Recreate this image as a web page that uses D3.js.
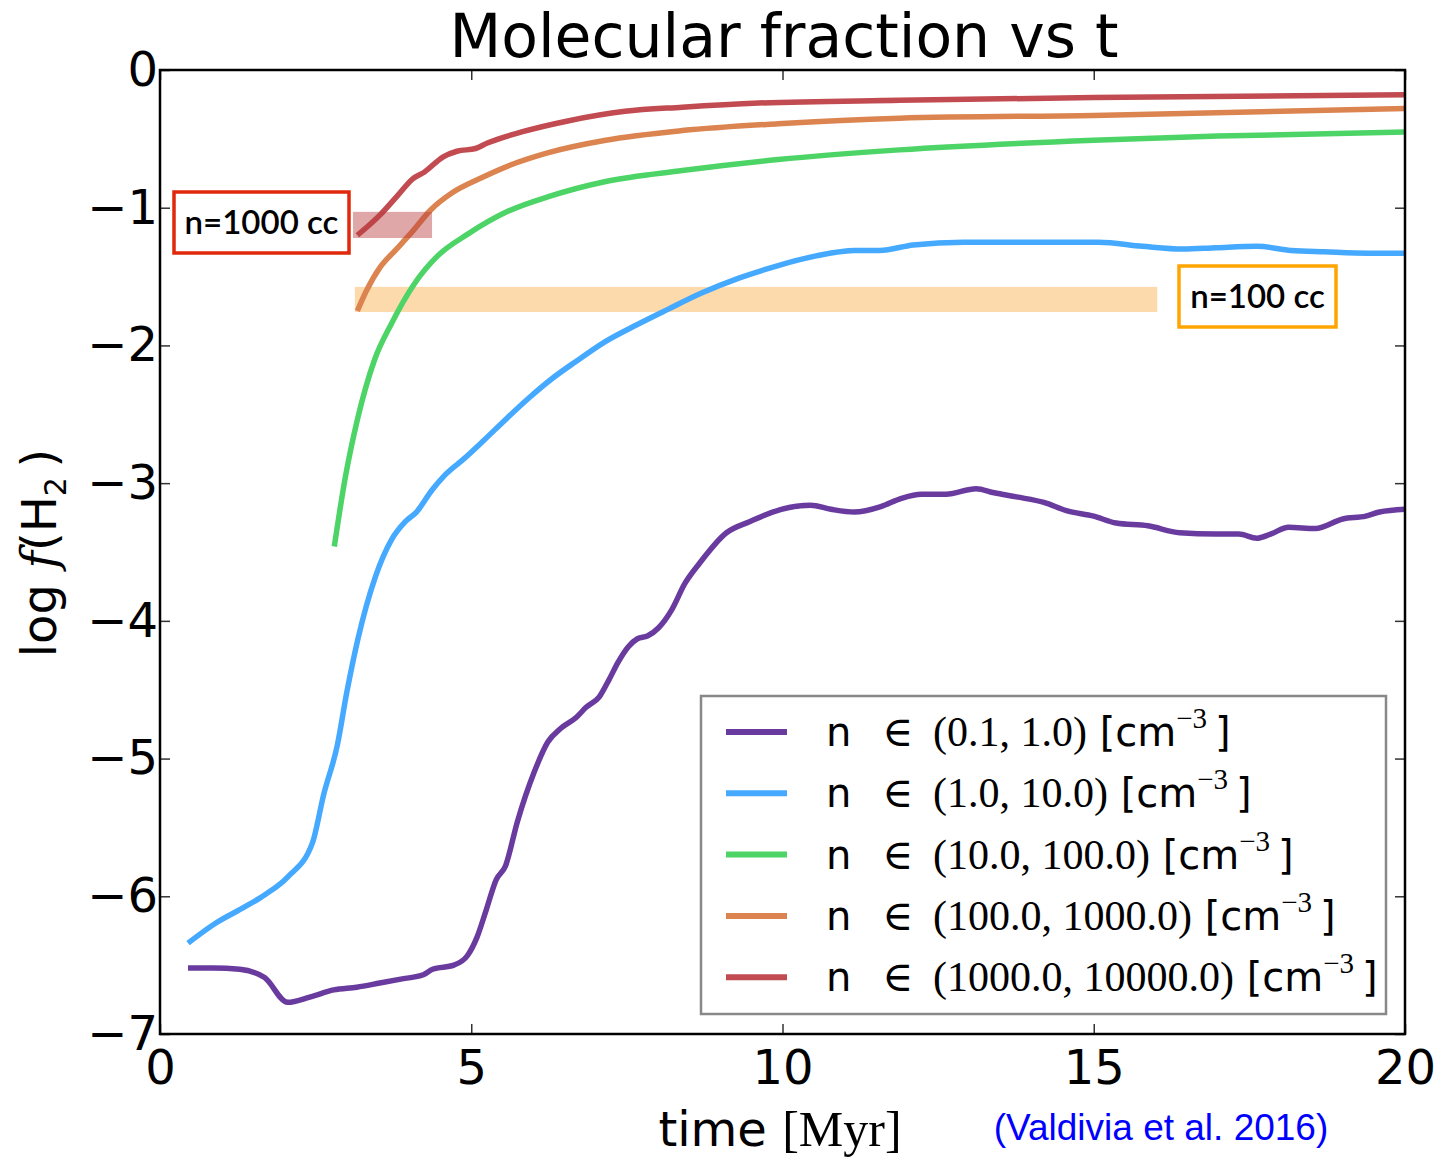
<!DOCTYPE html>
<html>
<head>
<meta charset="utf-8">
<script src="https://cdn.jsdelivr.net/npm/d3@7"></script>
<style>
  body { margin: 0; background: #fff; }
  svg { display: block; }
</style>
</head>
<body>
<div id="chart"></div>
<script>
// series values: time [Myr] and log f(H2)
const purpleT = [0.45, 0.85, 1.28, 1.68, 2.05, 2.42, 2.79, 3.16, 3.53, 3.89, 4.23, 4.38, 4.72, 4.94, 5.09, 5.24, 5.40, 5.55, 5.74, 6.01, 6.23, 6.44, 6.69, 6.84, 7.06, 7.21, 7.36, 7.52, 7.67, 7.83, 8.01, 8.22, 8.43, 8.67, 9.10, 9.47, 9.98, 10.45, 10.78, 11.15, 11.58, 11.91, 12.23, 12.63, 13.11, 13.40, 13.76, 14.20, 14.56, 15.00, 15.36, 15.87, 16.38, 16.96, 17.33, 17.62, 17.84, 18.13, 18.56, 19.00, 19.37, 19.59, 20];
const purpleF = [-6.52, -6.52, -6.53, -6.59, -6.77, -6.73, -6.68, -6.66, -6.63, -6.60, -6.57, -6.53, -6.50, -6.43, -6.30, -6.10, -5.88, -5.78, -5.46, -5.10, -4.88, -4.78, -4.70, -4.63, -4.55, -4.43, -4.30, -4.19, -4.13, -4.11, -4.05, -3.92, -3.73, -3.58, -3.36, -3.28, -3.19, -3.16, -3.19, -3.21, -3.17, -3.11, -3.08, -3.08, -3.04, -3.07, -3.10, -3.14, -3.20, -3.24, -3.29, -3.31, -3.36, -3.37, -3.37, -3.40, -3.37, -3.32, -3.33, -3.26, -3.24, -3.21, -3.19];

const blueT = [0.45, 0.91, 1.31, 1.68, 2.05, 2.45, 2.63, 2.85, 3.00, 3.18, 3.46, 3.72, 3.94, 4.12, 4.37, 4.58, 4.89, 5.20, 5.57, 5.93, 6.30, 6.67, 7.16, 7.66, 8.15, 8.70, 9.31, 9.93, 10.54, 11.16, 11.56, 12.10, 12.91, 13.99, 15.08, 15.78, 16.43, 16.97, 17.62, 18.17, 18.71, 19.41, 20];
const blueF = [-6.34, -6.19, -6.09, -5.99, -5.86, -5.61, -5.26, -4.90, -4.52, -4.13, -3.68, -3.41, -3.28, -3.21, -3.05, -2.94, -2.82, -2.69, -2.53, -2.38, -2.24, -2.12, -1.97, -1.85, -1.74, -1.62, -1.51, -1.42, -1.35, -1.31, -1.31, -1.27, -1.25, -1.25, -1.25, -1.28, -1.30, -1.29, -1.28, -1.31, -1.32, -1.33, -1.33];

const greenT = [2.80, 2.98, 3.17, 3.45, 3.72, 4.09, 4.46, 4.95, 5.57, 6.24, 7.16, 8.39, 9.93, 11.88, 15.0, 17.0, 20];
const greenF = [-3.46, -2.95, -2.54, -2.10, -1.84, -1.55, -1.35, -1.19, -1.03, -0.92, -0.81, -0.73, -0.65, -0.58, -0.51, -0.48, -0.45];

const orangeT = [3.17, 3.32, 3.54, 3.78, 4.06, 4.34, 4.70, 5.13, 5.63, 6.24, 7.16, 8.39, 9.93, 11.88, 15.0, 20];
const orangeF = [-1.75, -1.60, -1.43, -1.31, -1.17, -1.02, -0.89, -0.79, -0.69, -0.60, -0.51, -0.44, -0.39, -0.35, -0.33, -0.28];

const redT = [3.17, 3.54, 3.82, 4.06, 4.25, 4.55, 4.77, 5.07, 5.26, 5.81, 6.55, 7.47, 8.39, 9.62, 11.88, 15.0, 20];
const redF = [-1.20, -1.05, -0.91, -0.79, -0.74, -0.63, -0.59, -0.57, -0.53, -0.45, -0.37, -0.30, -0.27, -0.24, -0.22, -0.20, -0.18];

const binLow = ['0.1', '1.0', '10.0', '100.0', '1000.0'];
const binHigh = ['1.0', '10.0', '100.0', '1000.0', '10000.0'];
const xTicks = [0, 5, 10, 15, 20];
const yTicks = [0, -1, -2, -3, -4, -5, -6, -7];

// highlighted bands [t0, t1, f0, f1]
const redBand = [3.1, 4.37, -1.03, -1.22];
const orangeBand = [3.13, 16.02, -1.575, -1.757];

const colors = ['#6a3b9f', '#45a9ff', '#4dd466', '#dc8450', '#c14b51'];

const series = [
  { t: purpleT, f: purpleF },
  { t: blueT, f: blueF },
  { t: greenT, f: greenF },
  { t: orangeT, f: orangeF },
  { t: redT, f: redF }
].map((s, i) => ({ color: colors[i], low: binLow[i], high: binHigh[i],
  pts: s.t.map((t, j) => [t, s.f[j]]) }));

const W = 1445, H = 1157;
const margin = { top: 70, right: 40, bottom: 123, left: 160 };
const width = W - margin.left - margin.right;
const height = H - margin.top - margin.bottom;

const svg = d3.select('#chart').append('svg')
    .attr('width', W)
    .attr('height', H)
    .style('font-family', 'DejaVu Sans, sans-serif');

const g = svg.append('g')
    .attr('transform', `translate(${margin.left},${margin.top})`);

const x = d3.scaleLinear().domain([0, 20]).range([0, width]);
const y = d3.scaleLinear().domain([-7, 0]).range([height, 0]);

// bands behind the lines
g.append('rect')
    .attr('x', x(orangeBand[0])).attr('width', x(orangeBand[1]) - x(orangeBand[0]))
    .attr('y', y(orangeBand[2])).attr('height', y(orangeBand[3]) - y(orangeBand[2]))
    .attr('fill', '#fcc173').attr('opacity', 0.6);

const line = d3.line()
    .x(d => x(d[0]))
    .y(d => y(d[1]))
    .curve(d3.curveMonotoneX);

g.selectAll('.series')
  .data(series)
  .join('path')
    .attr('class', 'series')
    .attr('fill', 'none')
    .attr('stroke', d => d.color)
    .attr('stroke-width', 5.5)
    .attr('d', d => line(d.pts));

g.append('rect')
    .attr('x', x(redBand[0])).attr('width', x(redBand[1]) - x(redBand[0]))
    .attr('y', y(redBand[2])).attr('height', y(redBand[3]) - y(redBand[2]))
    .attr('fill', '#b83c3c').attr('opacity', 0.45);

// axes: ticks inward on all four sides
const tickStyle = sel => {
  sel.select('.domain').remove();
  sel.selectAll('line').attr('stroke', '#333').attr('stroke-width', 1.5);
};

g.append('g')
    .attr('transform', `translate(0,${height})`)
    .call(d3.axisBottom(x).tickValues(xTicks).tickSizeInner(-10).tickPadding(16).tickFormat(d3.format('d')))
    .call(tickStyle)
    .selectAll('text')
      .attr('font-size', 48).attr('fill', '#000').attr('font-family', 'DejaVu Sans');

g.append('g')
    .call(d3.axisTop(x).tickValues(xTicks).tickSizeInner(-10).tickFormat(''))
    .call(tickStyle);

g.append('g')
    .call(d3.axisLeft(y).tickValues(yTicks).tickSizeInner(-10).tickPadding(2)
      .tickFormat(d => d < 0 ? '\u2212' + Math.abs(d) : d))
    .call(tickStyle)
    .selectAll('text')
      .attr('font-size', 48).attr('fill', '#000').attr('font-family', 'DejaVu Sans');

g.append('g')
    .attr('transform', `translate(${width},0)`)
    .call(d3.axisRight(y).tickValues(yTicks).tickSizeInner(-10).tickFormat(''))
    .call(tickStyle);

g.append('rect')
    .attr('width', width).attr('height', height)
    .attr('fill', 'none').attr('stroke', '#000').attr('stroke-width', 2.5);

// title and axis labels
svg.append('text')
    .attr('x', 784).attr('y', 57)
    .attr('text-anchor', 'middle')
    .attr('font-size', 60)
    .text('Molecular fraction vs t');

const xl = svg.append('text')
    .attr('x', 780).attr('y', 1146)
    .attr('text-anchor', 'middle')
    .attr('font-size', 48);
xl.append('tspan').text('time ');
xl.append('tspan').attr('font-family', 'Liberation Serif, serif').attr('font-size', 50).text('[Myr]');

const yl = svg.append('text')
    .attr('transform', 'translate(56,553) rotate(-90)')
    .attr('text-anchor', 'middle')
    .attr('font-size', 48);
yl.append('tspan').text('log ');
yl.append('tspan').attr('font-family', 'DejaVu Serif').attr('font-style', 'italic').text('f');
yl.append('tspan').text('(H');
yl.append('tspan').attr('font-size', 30).attr('dy', 10).text('2');
yl.append('tspan').attr('dy', -10).text('\u2009)');

svg.append('text')
    .attr('x', 1161).attr('y', 1140)
    .attr('text-anchor', 'middle')
    .attr('font-family', 'Liberation Sans, Arial, sans-serif')
    .attr('font-size', 37)
    .attr('fill', '#0000ff')
    .text('(Valdivia et al. 2016)');

// annotation boxes
const annots = [
  { x: 174, y: 192, w: 175, h: 61, stroke: '#e0280c', text: 'n=1000 cc' },
  { x: 1179, y: 266, w: 157, h: 61, stroke: '#ffa500', text: 'n=100 cc' }
];
const ann = svg.selectAll('.ann').data(annots).join('g').attr('class', 'ann');
ann.append('rect')
    .attr('x', d => d.x).attr('y', d => d.y)
    .attr('width', d => d.w).attr('height', d => d.h)
    .attr('fill', '#fff').attr('stroke', d => d.stroke).attr('stroke-width', 3.5);
ann.append('text')
    .attr('x', d => d.x + d.w / 2).attr('y', d => d.y + d.h / 2 + 11)
    .attr('text-anchor', 'middle')
    .attr('font-family', 'Lato, sans-serif')
    .attr('font-size', 33)
    .attr('font-weight', 600)
    .text(d => d.text);

// legend
const legend = svg.append('g');
legend.append('rect')
    .attr('x', 701).attr('y', 696).attr('width', 685).attr('height', 318)
    .attr('fill', '#fff').attr('stroke', '#888').attr('stroke-width', 2.5);

const rows = legend.selectAll('.row').data(series).join('g')
    .attr('class', 'row')
    .attr('transform', (d, i) => `translate(0,${732 + i * 61.3})`);
rows.append('line')
    .attr('x1', 726).attr('x2', 787)
    .attr('stroke', d => d.color).attr('stroke-width', 6);
const lt = rows.append('text')
    .attr('y', 14)
    .attr('font-size', 40);
lt.append('tspan').attr('x', 826).text('n');
lt.append('tspan').attr('x', 882).attr('font-family', 'DejaVu Serif').attr('font-size', 42).text('\u2208');
lt.append('tspan').attr('x', 933).attr('font-family', 'Liberation Serif, serif').attr('font-size', 42)
    .text(d => `(${d.low}, ${d.high})`);
lt.append('tspan').text(' [cm');
lt.append('tspan').attr('dy', -18).attr('font-family', 'Liberation Serif, serif').attr('font-size', 29).text('\u22123');
lt.append('tspan').attr('dy', 18).text('\u2009]');
</script>
</body>
</html>
